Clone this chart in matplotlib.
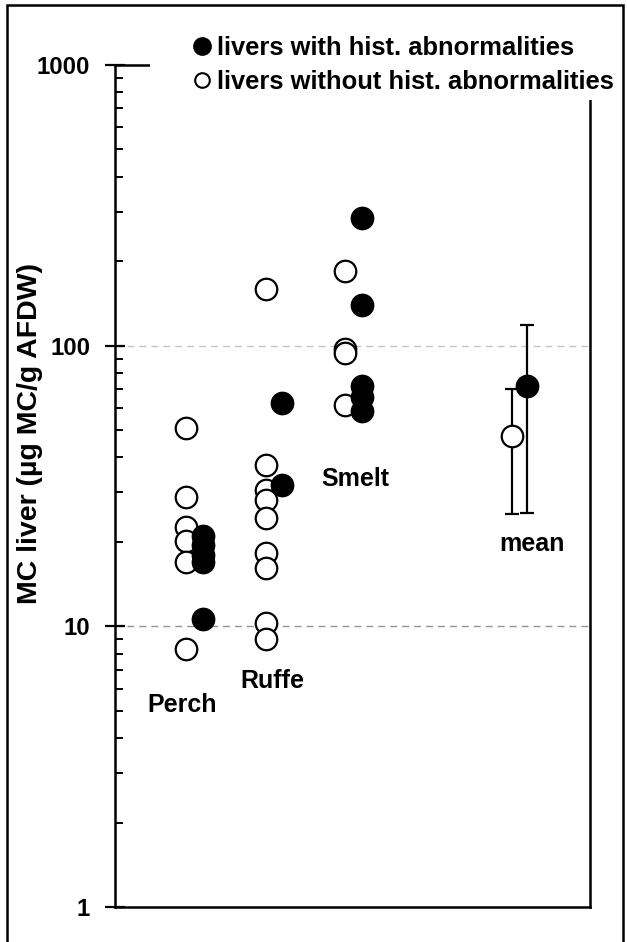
import matplotlib
matplotlib.use("Agg")
import matplotlib.pyplot as plt
from matplotlib.lines import Line2D
from matplotlib.patches import Rectangle

plt.rcParams['font.family'] = ['Liberation Sans', 'DejaVu Sans']
plt.rcParams['font.weight'] = 'bold'

species = ["Perch", "Ruffe", "Smelt"]
species_pos = [1, 2, 3]

# values (µg MC / g AFDW)
perch_without = [50.8, 29.0, 22.6, 20.2, 16.9, 8.3]
perch_with = [21.0, 19.5, 18.0, 17.0, 10.6]
ruffe_without = [159.0, 37.6, 30.5, 28.2, 24.4, 18.2, 16.2, 10.3, 9.0]
ruffe_with = [62.3, 32.0]
smelt_without = [184.0, 97.3, 93.9, 61.7]
smelt_with = [286.0, 139.6, 72.1, 65.5, 58.4]

mean_label = "mean"
mean_pos = 5.09
mean_without = 47.8
mean_without_err = (25.2, 70.1)   # low, high
mean_with = 72.1
mean_with_err = (25.4, 118.8)

legend_labels = ["livers with hist. abnormalities", "livers without hist. abnormalities"]
ylabel = "MC liver (µg MC/g AFDW)"
yticks = [1, 10, 100, 1000]

W, H = 627, 942
fig = plt.figure(figsize=(W / 100, H / 100), dpi=100)
ax = fig.add_axes([115 / W, 1 - 907 / H, (590 - 115) / W, (907 - 65) / H])

off = 0.102
ms = 15.5
mew = 1.6
groups = [(perch_without, perch_with), (ruffe_without, ruffe_with), (smelt_without, smelt_with)]
for pos, (wo, wi) in zip(species_pos, groups):
    ax.plot([pos - off] * len(wo), wo, 'o', ms=ms, mfc='white', mec='black', mew=mew, zorder=3, clip_on=False)
    ax.plot([pos + off] * len(wi), wi, 'o', ms=ms, mfc='black', mec='black', mew=mew, zorder=4, clip_on=False)

# means with error bars
ax.errorbar([mean_pos - 0.098], [mean_without],
            yerr=[[mean_without - mean_without_err[0]], [mean_without_err[1] - mean_without]],
            fmt='o', ms=ms, mfc='white', mec='black', mew=mew, ecolor='black', elinewidth=1.6,
            capsize=5, capthick=1.6, zorder=3)
ax.errorbar([mean_pos + 0.098], [mean_with],
            yerr=[[mean_with - mean_with_err[0]], [mean_with_err[1] - mean_with]],
            fmt='o', ms=ms, mfc='black', mec='black', mew=mew, ecolor='black', elinewidth=1.6,
            capsize=5, capthick=1.6, zorder=4)

ax.set_yscale('log')
ax.set_ylim(1, 1000)
ax.set_xlim(0.0, 5.975)
ax.set_xticks([])
ax.set_yticks(yticks)
ax.set_yticklabels([str(t) for t in yticks], fontsize=17.3, fontweight='bold')
ax.tick_params(axis='y', which='major', direction='inout', length=14, width=1.6, pad=11)
ax.tick_params(axis='y', which='minor', direction='in', length=6, width=1.4, labelleft=False)
for s in ax.spines.values():
    s.set_linewidth(1.8)

ax.axhline(10, color='#949494', lw=1.0, ls=(0, (5, 3.6)), zorder=1)
ax.axhline(100, color='#c4c4c4', lw=1.0, ls=(0, (5, 3.6)), zorder=1)

# category labels
tk = dict(fontsize=18, fontweight='bold', ha='center', va='center')
ax.text(0.85, 5.24, species[0], **tk)
ax.text(1.975, 6.37, species[1], **tk)
ax.text(3.025, 33.4, species[2], **tk)
ax.text(5.24, 19.7, mean_label, **tk)

ax.set_ylabel(ylabel, fontsize=20.5, fontweight='bold')
ax.yaxis.set_label_coords(43 / W, 1 - 433 / H, transform=fig.transFigure)

# white band hiding the top/right frame behind the legend
fig.patches.append(Rectangle((150 / W, 1 - 100 / H), (605 - 150) / W, (100 - 12) / H,
                             transform=fig.transFigure, facecolor='white', edgecolor='none', zorder=5))

handles = [Line2D([], [], ls='none', marker='o', ms=12, mfc='black', mec='black', mew=1.5),
           Line2D([], [], ls='none', marker='o', ms=10.5, mfc='white', mec='black', mew=1.5)]
leg = fig.legend(handles, legend_labels, loc='upper left', bbox_to_anchor=(195 / W, 1 - 36 / H),
                 frameon=False,
                 prop={'family': 'Liberation Sans', 'weight': 'bold', 'size': 18.4},
                 handlelength=0.55, handletextpad=0.3, labelspacing=0.38, borderpad=0,
                 borderaxespad=0)
leg.set_zorder(10)

# outer frame
fig.patches.append(Rectangle((7 / W, -0.05), (623 - 7) / W, 1.05 - 5 / H, transform=fig.transFigure,
                             fill=False, edgecolor='black', lw=1.8, zorder=6))

fig.savefig("out.png", dpi=100)
